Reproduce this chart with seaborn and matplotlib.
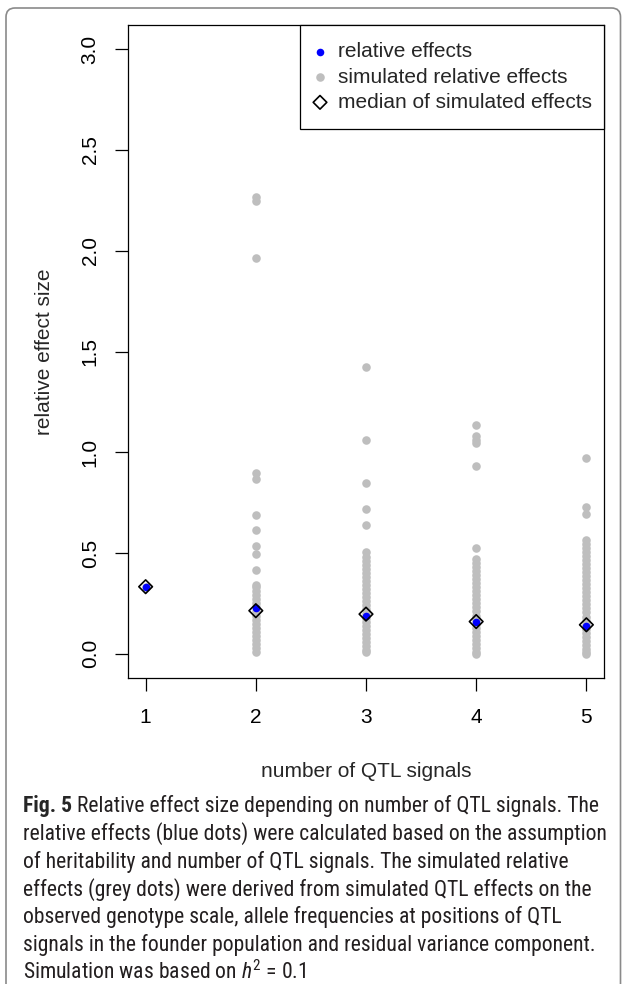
import matplotlib
matplotlib.use("Agg")
import matplotlib.pyplot as plt
import seaborn as sns
import pandas as pd
from matplotlib import font_manager
from matplotlib.patches import FancyBboxPatch
from matplotlib.transforms import IdentityTransform

# ---------------- data ----------------
qtl_numbers = [1, 2, 3, 4, 5]
relative_effects = [0.333, 0.225, 0.186, 0.160, 0.139]
median_simulated = [0.333, 0.214, 0.197, 0.160, 0.144]

sim_1 = [0.333]
sim_2 = [2.265, 2.245, 1.966, 0.899, 0.869, 0.687, 0.614, 0.536, 0.497, 0.417,
         0.343, 0.33, 0.31, 0.29, 0.27, 0.25, 0.23, 0.21, 0.19, 0.17, 0.15,
         0.13, 0.11, 0.09, 0.07, 0.05, 0.03, 0.01]
sim_3 = [1.422, 1.061, 0.846, 0.719, 0.639, 0.503,
         0.478, 0.46, 0.44, 0.42, 0.40, 0.38, 0.36, 0.34, 0.32, 0.30, 0.28,
         0.26, 0.24, 0.22, 0.20, 0.18, 0.16, 0.14, 0.12, 0.10, 0.08, 0.06,
         0.04, 0.02, 0.01]
sim_4 = [1.133, 1.080, 1.062, 1.045, 0.930, 0.525,
         0.472, 0.45, 0.43, 0.41, 0.39, 0.37, 0.35, 0.33, 0.31, 0.29, 0.27,
         0.25, 0.23, 0.21, 0.19, 0.17, 0.15, 0.13, 0.11, 0.09, 0.07, 0.05,
         0.03, 0.01, 0.0]
sim_5 = [0.970, 0.730, 0.695, 0.566, 0.545, 0.525, 0.505,
         0.485, 0.465, 0.445, 0.425, 0.405, 0.385, 0.365, 0.345, 0.325, 0.305,
         0.285, 0.265, 0.245, 0.225, 0.205, 0.185, 0.165, 0.145, 0.125, 0.105,
         0.085, 0.065, 0.045, 0.025, 0.01, 0.0]

y_ticks = [0.0, 0.5, 1.0, 1.5, 2.0, 2.5, 3.0]
y_ticklabels = ["0.0", "0.5", "1.0", "1.5", "2.0", "2.5", "3.0"]
legend_labels = ["relative effects", "simulated relative effects",
                 "median of simulated effects"]
x_label = "number of QTL signals"
y_label = "relative effect size"

caption_bold = "Fig. 5"
caption_lines = [
    " Relative effect size depending on number of QTL signals. The",
    "relative effects (blue dots) were calculated based on the assumption",
    "of heritability and number of QTL signals. The simulated relative",
    "effects (grey dots) were derived from simulated QTL effects on the",
    "observed genotype scale, allele frequencies at positions of QTL",
    "signals in the founder population and residual variance component.",
    r"Simulation was based on $h^2$ = 0.1",
]

# ---------------- tables ----------------
sim_lists = [sim_1, sim_2, sim_3, sim_4, sim_5]
sim_df = pd.DataFrame({
    "n": [n for n, vals in zip(qtl_numbers, sim_lists) for _ in vals],
    "effect": [v for vals in sim_lists for v in vals],
})
rel_df = pd.DataFrame({"n": qtl_numbers, "effect": relative_effects})
med_df = pd.DataFrame({"n": qtl_numbers, "effect": median_simulated})

# ---------------- style ----------------
sns.set_style("white")
plt.rcParams["font.family"] = ["Liberation Sans", "DejaVu Sans"]
available = {f.name for f in font_manager.fontManager.ttflist}
cap_font = "Roboto"
for cand in ["Liberation Sans Narrow", "Roboto Condensed", "Open Sans Condensed", "Roboto"]:
    if cand in available:
        cap_font = cand
        break
plt.rcParams["mathtext.fontset"] = "custom"
plt.rcParams["mathtext.rm"] = cap_font
plt.rcParams["mathtext.it"] = cap_font + ":italic"

W, H = 622, 984
fig = plt.figure(figsize=(W / 100, H / 100), dpi=100)
ax = fig.add_axes([128 / W, 1 - 678 / H, (604 - 128) / W, (678 - 25) / H])

sns.scatterplot(data=sim_df, x="n", y="effect", ax=ax, color="#BEBEBE",
                s=38, linewidth=0, label=legend_labels[1], zorder=2)
sns.scatterplot(data=rel_df, x="n", y="effect", ax=ax, color="#0000FF",
                s=30, linewidth=0, label=legend_labels[0], zorder=3)
sns.scatterplot(data=med_df, x="n", y="effect", ax=ax, marker="D",
                facecolor="none", edgecolor="black", s=48, linewidth=1.2,
                label=legend_labels[2], zorder=4)

ax.set_xlim(0.84, 5.16)
ax.set_ylim(-0.12, 3.12)
ax.set_xticks(qtl_numbers)
ax.set_xticklabels([str(n) for n in qtl_numbers])
ax.set_yticks(y_ticks)
ax.set_yticklabels(y_ticklabels, rotation=90, va="center")
ax.tick_params(axis="both", direction="out", length=9.4, width=0.9,
               color="black", labelsize=15, labelcolor="black",
               left=True, bottom=True)
ax.tick_params(axis="x", pad=12.5)
ax.tick_params(axis="y", pad=11)
for sp in ax.spines.values():
    sp.set_color("black")
    sp.set_linewidth(0.9)
ax.set_xlabel(x_label, fontsize=15, labelpad=25)
ax.set_ylabel(y_label, fontsize=15, labelpad=19)

handles, labels = ax.get_legend_handles_labels()
order = [labels.index(l) for l in legend_labels]
leg_left = (300 - 128) / 476
leg = ax.legend([handles[i] for i in order], [labels[i] for i in order],
                loc="upper left", bbox_to_anchor=(leg_left, 0, 1 - leg_left, 1.0),
                mode="expand", borderaxespad=0, fontsize=15,
                frameon=True, fancybox=False, edgecolor="black",
                framealpha=1, handletextpad=0.74, handlelength=0.26,
                labelspacing=0.30, borderpad=0.83)
leg.get_frame().set_linewidth(0.9)

# outer rounded frame
frame = FancyBboxPatch((6, -30), 614.5, H - 8 + 30, boxstyle="round,pad=0,rounding_size=9",
                       transform=IdentityTransform(), fill=False,
                       edgecolor="#8a8a8a", linewidth=1.2)
fig.patches.append(frame)

# caption
renderer = fig.canvas.get_renderer()
cap_size = 15.6
baselines = [812, 840, 868, 896, 923, 951, 979]
x0 = 23 / W
tb = fig.text(x0, 1 - baselines[0] / H, caption_bold, fontsize=cap_size,
              fontweight="bold", family=[cap_font, "DejaVu Sans"], va="baseline")
bb = tb.get_window_extent(renderer)
fig.text(bb.x1 / W, 1 - baselines[0] / H, caption_lines[0], fontsize=cap_size,
         family=[cap_font, "DejaVu Sans"], va="baseline", color="#231f20")
for line, yb in zip(caption_lines[1:], baselines[1:]):
    fig.text(x0, 1 - yb / H, line, fontsize=cap_size,
             family=[cap_font, "DejaVu Sans"], va="baseline", color="#231f20")

fig.savefig("out.png", dpi=100)
